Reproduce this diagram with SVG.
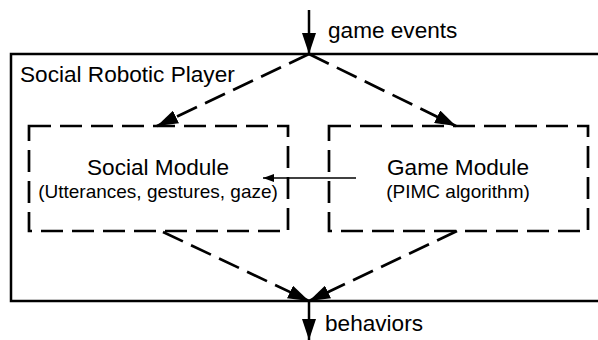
<svg xmlns="http://www.w3.org/2000/svg" width="598" height="340" viewBox="0 0 598 340">
<style>
text{font-family:"Liberation Sans",Arial,sans-serif;fill:#000}
.big{font-size:22.6px}
.small{font-size:19px}
.dash{fill:none;stroke:#000;stroke-width:2.7;stroke-dasharray:22 9}
.solid{fill:none;stroke:#000;stroke-width:2.5}
.thin{fill:none;stroke:#000;stroke-width:1.6}
</style>
<defs>
<marker id="ah" markerUnits="userSpaceOnUse" markerWidth="22" markerHeight="14" refX="21" refY="7" orient="auto">
<path d="M0,0 L21,7 L0,14 Z" fill="#000"/>
</marker>
<marker id="ahs" markerUnits="userSpaceOnUse" markerWidth="12" markerHeight="8" refX="11" refY="4" orient="auto">
<path d="M0,0 L11,4 L0,8 Z" fill="#000"/>
</marker>
</defs>
<rect width="598" height="340" fill="#fff"/>
<g id="player">
<rect class="solid" x="11" y="54" width="600" height="247"/>
<text class="big" x="20" y="82">Social Robotic Player</text>
</g>
<g id="social">
<rect class="dash" x="29" y="126" width="259" height="105"/>
<text class="big" x="158" y="175" text-anchor="middle">Social Module</text>
<text class="small" x="158" y="198" text-anchor="middle">(Utterances, gestures, gaze)</text>
</g>
<g id="game">
<rect class="dash" x="329" y="126" width="259" height="105"/>
<text class="big" x="458" y="175" text-anchor="middle">Game Module</text>
<text class="small" x="458" y="198" text-anchor="middle">(PIMC algorithm)</text>
</g>
<g id="labels">
<text class="big" x="328" y="38">game events</text>
<text class="big" x="325" y="331">behaviors</text>
</g>
<g id="connectors">
<line class="solid" x1="309" y1="10" x2="309" y2="54" marker-end="url(#ah)"/>
<line class="dash" x1="309" y1="54" x2="157" y2="126" marker-end="url(#ah)"/>
<line class="dash" x1="309" y1="54" x2="456" y2="126" marker-end="url(#ah)"/>
<line class="thin" x1="356" y1="178" x2="263" y2="178" marker-end="url(#ahs)"/>
<line class="dash" x1="163" y1="232" x2="309" y2="301" marker-end="url(#ah)"/>
<line class="dash" x1="457" y1="231" x2="309" y2="301" marker-end="url(#ah)"/>
<line class="solid" x1="309" y1="301" x2="309" y2="340" marker-end="url(#ah)"/>
</g>
</svg>
